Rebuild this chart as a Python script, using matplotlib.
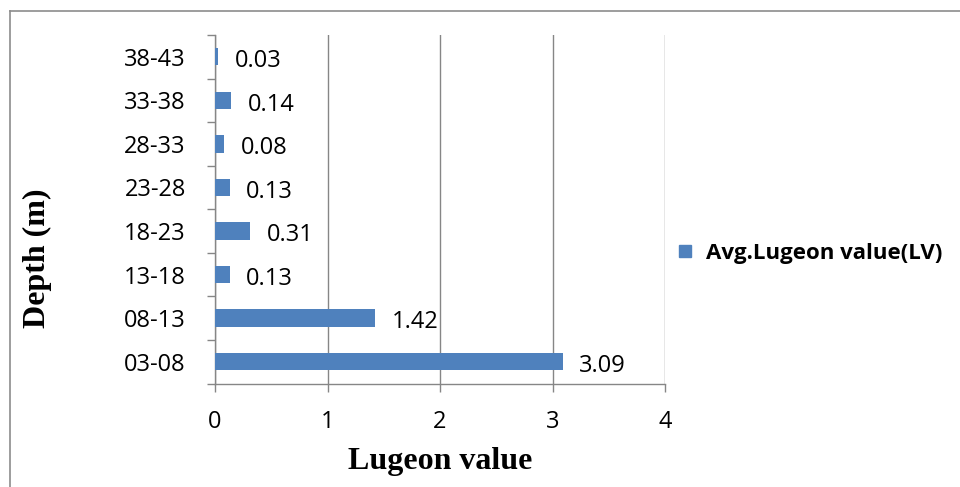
import matplotlib
matplotlib.use("Agg")
import matplotlib.pyplot as plt
from matplotlib.lines import Line2D
import numpy as np

depths = ["03-08", "08-13", "13-18", "18-23", "23-28", "28-33", "33-38", "38-43"]
lugeon = [3.09, 1.42, 0.13, 0.31, 0.13, 0.08, 0.14, 0.03]
value_labels = ["3.09", "1.42", "0.13", "0.31", "0.13", "0.08", "0.14", "0.03"]
x_ticks = [0, 1, 2, 3, 4]
series_name = "Avg.Lugeon value(LV)"

BAR = "#4F81BD"
GRID = "#868686"
SANS = ["Open Sans", "DejaVu Sans"]
SERIF = ["Liberation Serif", "DejaVu Serif"]

fig = plt.figure(figsize=(9.6, 4.87), dpi=100)
ax = fig.add_axes([215 / 960, 1 - 383.5 / 487, 450 / 960, 348.5 / 487])

y = np.arange(len(depths))
ax.barh(y, lugeon, height=0.4, color=BAR, zorder=3)

for yi, v, txt in zip(y, lugeon, value_labels):
    ax.annotate(txt, (v, yi), xytext=(12, -3), textcoords="offset points",
                ha="left", va="center", fontsize=17, family=SANS)

ax.set_xlim(0, 4)
ax.set_ylim(-0.5, len(depths) - 0.5)
ax.set_xticks(x_ticks)
ax.set_xticklabels([str(t) for t in x_ticks], fontsize=17, family=SANS)
ax.set_yticks(y)
ax.set_yticklabels(depths, fontsize=17, family=SANS)
ax.set_yticks(np.arange(-0.5, len(depths), 1.0), minor=True)
ax.tick_params(axis="y", which="major", length=0, pad=21)
ax.tick_params(axis="y", which="minor", length=6, color=GRID, width=1)
ax.tick_params(axis="x", which="major", length=6, color=GRID, width=1, pad=13)

ax.grid(axis="x", color=GRID, linewidth=1, zorder=0)
for s in ["top", "right"]:
    ax.spines[s].set_visible(False)
for s in ["left", "bottom"]:
    ax.spines[s].set_color(GRID)
    ax.spines[s].set_linewidth(1)

fig.text(440 / 960, 1 - 462 / 487, "Lugeon value", ha="center", va="center",
         fontsize=23, fontweight="bold", family=SERIF)
fig.text(37 / 960, 1 - 258 / 487, "Depth (m)", ha="center", va="center", rotation=90,
         fontsize=23, fontweight="bold", family=SERIF)

handle = Line2D([], [], marker="s", linestyle="none", markersize=9,
                markerfacecolor=BAR, markeredgecolor=BAR)
fig.legend([handle], [series_name], loc="center left",
           bbox_to_anchor=(648 / 960, 1 - 253 / 487), frameon=False,
           handletextpad=0.2, handlelength=1.5,
           prop={"family": SANS, "weight": "bold", "size": 16})

# chart-area frame (left and top edges)
fig.add_artist(Line2D([9.5 / 960, 9.5 / 960], [0, 1 - 11 / 487], transform=fig.transFigure,
                      color="#8c8c8c", linewidth=1.2))
fig.add_artist(Line2D([9.5 / 960, 1], [1 - 11 / 487, 1 - 11 / 487], transform=fig.transFigure,
                      color="#8c8c8c", linewidth=1.2))

fig.savefig("out.png", dpi=100)
